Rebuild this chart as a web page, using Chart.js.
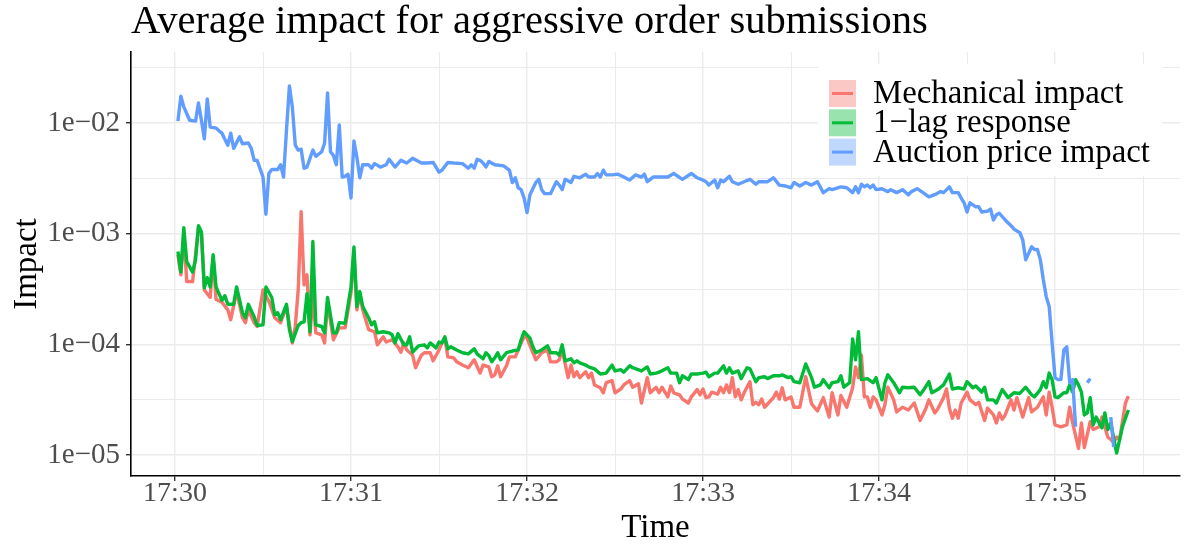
<!DOCTYPE html>
<html>
<head>
<meta charset="utf-8">
<title>Average impact for aggressive order submissions</title>
<script src="https://cdn.jsdelivr.net/npm/chart.js@4.4.1/dist/chart.umd.min.js"></script>
<style>
  html, body { margin: 0; padding: 0; background: #fff; }
</style>
</head>
<body>
<canvas id="impactChart" width="1184" height="545"></canvas>
<script>
// seconds after 17:30:00, impact
const mechanicalImpact = [[1,6.45e-4],[2,4.25e-4],[3,1.02e-3],[4,3.7e-4],[6,3.7e-4],[8,1.13e-3],[9,1.02e-3],[10,3.1e-4],[12,2.65e-4],[13,6.1e-4],[14,2.55e-4],[16,2.4e-4],[18,2.05e-4],[19,1.67e-4],[21,3.0e-4],[23,1.74e-4],[24,1.57e-4],[25,2.05e-4],[27,1.57e-4],[28,1.45e-4],[30,3.1e-4],[32,2.45e-4],[34,1.74e-4],[36,1.57e-4],[38,2.2e-4],[40,1.03e-4],[41,1.45e-4],[42,3.1e-4],[43,1.58e-3],[44,3.45e-4],[45,4.25e-4],[46,1.22e-4],[47,2.7e-4],[48,1.27e-4],[50,1.22e-4],[51,1.03e-4],[52,2.4e-4],[54,1.1e-4],[56,1.41e-4],[58,1.41e-4],[60,2.95e-4],[61,6.9e-4],[62,2.05e-4],[63,2.85e-4],[64,2.05e-4],[66,1.36e-4],[68,1.3e-4],[69,9.9e-5],[71,1.17e-4],[72,1.05e-4],[74,1.1e-4],[76,9.5e-5],[77,8.5e-5],[78,1.03e-4],[79,8.9e-5],[81,8.0e-5],[82,6.15e-5],[84,8.0e-5],[85,8.4e-5],[87,8.4e-5],[88,7.1e-5],[90,8.9e-5],[91,1.03e-4],[92,1.14e-4],[93,7.7e-5],[95,7.55e-5],[96,6.95e-5],[98,6.5e-5],[100,6.15e-5],[102,7.25e-5],[104,5.5e-5],[105,6.5e-5],[107,6.25e-5],[108,5.1e-5],[109,5.3e-5],[110,6.4e-5],[111,5.1e-5],[113,6.4e-5],[114,7.7e-5],[116,7.7e-5],[118,1.03e-4],[119,1.17e-4],[120,1.14e-4],[122,8.4e-5],[123,7.25e-5],[125,8.4e-5],[127,8.9e-5],[128,6.95e-5],[130,6.95e-5],[131,7.25e-5],[132,8.9e-5],[134,5.0e-5],[135,6.5e-5],[136,5.1e-5],[137,5.65e-5],[138,5.0e-5],[140,5.65e-5],[141,5.0e-5],[142,5.5e-5],[143,4.3e-5],[145,4.05e-5],[146,3.65e-5],[147,4.5e-5],[149,4.7e-5],[150,3.65e-5],[152,3.95e-5],[153,4.3e-5],[155,4.7e-5],[156,4.1e-5],[158,4.4e-5],[159,2.95e-5],[161,5.0e-5],[162,3.65e-5],[164,4.1e-5],[165,3.65e-5],[166,4.1e-5],[168,3.35e-5],[169,4.2e-5],[170,3.65e-5],[172,3.5e-5],[173,3.2e-5],[175,2.95e-5],[176,3.35e-5],[178,3.9e-5],[179,3.5e-5],[180,3.95e-5],[181,3.3e-5],[182,3.35e-5],[183,3.7e-5],[185,3.55e-5],[186,4.1e-5],[187,3.65e-5],[188,4.3e-5],[189,3.65e-5],[190,5.0e-5],[191,3.35e-5],[192,3.9e-5],[193,3.15e-5],[194,3.65e-5],[196,4.6e-5],[197,2.85e-5],[198,3.0e-5],[199,2.85e-5],[200,3.2e-5],[201,2.7e-5],[204,3.3e-5],[205,3.7e-5],[206,3.2e-5],[207,4.05e-5],[208,3.15e-5],[210,3.35e-5],[211,2.7e-5],[213,2.7e-5],[215,5.1e-5],[217,2.9e-5],[219,2.5e-5],[221,3.3e-5],[223,2.2e-5],[224,3.65e-5],[226,2.3e-5],[227,3.45e-5],[229,2.7e-5],[231,4.05e-5],[232,6.25e-5],[233,5.0e-5],[234,8.0e-5],[235,3.35e-5],[236,3.35e-5],[237,2.7e-5],[238,3.35e-5],[239,3.15e-5],[241,2.3e-5],[242,2.85e-5],[243,4.1e-5],[245,3.15e-5],[246,2.45e-5],[248,2.7e-5],[250,2.55e-5],[252,2.95e-5],[254,2.05e-5],[256,2.65e-5],[257,3.15e-5],[259,2.4e-5],[260,2.6e-5],[262,3.3e-5],[263,3.95e-5],[264,2.65e-5],[265,2.15e-5],[266,2.55e-5],[267,2.15e-5],[268,2.95e-5],[270,3.7e-5],[271,3.15e-5],[273,2.85e-5],[274,3.0e-5],[276,2.05e-5],[277,2.65e-5],[279,2.3e-5],[280,1.95e-5],[281,2.4e-5],[282,2.1e-5],[283,2.3e-5],[285,3.15e-5],[286,2.55e-5],[287,3.3e-5],[289,2.2e-5],[291,3.3e-5],[292,2.45e-5],[294,2.7e-5],[296,3.35e-5],[297,2.3e-5],[298,3.7e-5],[299,2.7e-5],[300,1.87e-5],[302,1.8e-5],[304,1.87e-5],[305,2.7e-5],[306,1.95e-5],[308,1.15e-5],[309,1.95e-5],[310,1.17e-5],[312,2.0e-5],[313,1.7e-5],[315,1.8e-5],[316,2.2e-5],[318,1.45e-5],[319,1.38e-5],[320,1.3e-5],[321,1.45e-5],[322,1.38e-5],[324,2.95e-5],[325,3.4e-5]];

const lagResponse = [[1,6.9e-4],[2,4.5e-4],[3,1.13e-3],[4,5.6e-4],[6,4.5e-4],[7,5.8e-4],[8,1.18e-3],[9,1.04e-3],[10,3.25e-4],[11,4.0e-4],[12,3.3e-4],[13,6.45e-4],[14,3.3e-4],[16,2.5e-4],[17,2.75e-4],[18,2.3e-4],[20,2.3e-4],[21,3.3e-4],[23,1.93e-4],[24,1.74e-4],[25,2.3e-4],[27,1.77e-4],[28,1.48e-4],[30,1.5e-4],[31,3.3e-4],[33,2.65e-4],[34,1.85e-4],[35,1.93e-4],[36,1.67e-4],[38,2.3e-4],[39,1.36e-4],[40,1.06e-4],[42,1.48e-4],[43,1.57e-4],[44,1.6e-4],[45,2.87e-4],[46,1.3e-4],[47,8.5e-4],[48,1.5e-4],[50,1.45e-4],[51,1.27e-4],[52,2.65e-4],[54,1.27e-4],[55,1.27e-4],[56,1.57e-4],[58,1.55e-4],[60,3.3e-4],[61,7.6e-4],[62,2.2e-4],[63,3.0e-4],[64,2.2e-4],[66,1.74e-4],[67,1.5e-4],[68,1.6e-4],[69,1.27e-4],[71,1.3e-4],[73,1.27e-4],[74,1.22e-4],[75,1.03e-4],[76,1.25e-4],[78,9.9e-5],[79,9.9e-5],[80,1.17e-4],[81,8.5e-5],[83,9.7e-5],[85,9.9e-5],[86,9.3e-5],[87,1.03e-4],[89,9.3e-5],[90,1.05e-4],[91,1.03e-4],[92,1.17e-4],[93,9.1e-5],[94,9.5e-5],[96,8.9e-5],[98,8.4e-5],[100,8.2e-5],[102,9.1e-5],[103,8.2e-5],[105,7.4e-5],[106,8.4e-5],[107,7.9e-5],[108,6.95e-5],[109,7.55e-5],[110,8.4e-5],[111,7.25e-5],[113,8.4e-5],[115,8.7e-5],[117,8.9e-5],[118,1.1e-4],[119,1.3e-4],[121,1.14e-4],[122,9.5e-5],[123,8.4e-5],[125,8.9e-5],[127,9.7e-5],[128,8.4e-5],[130,8.4e-5],[131,8.0e-5],[132,9.9e-5],[133,7.1e-5],[135,7.4e-5],[136,6.8e-5],[137,7.1e-5],[138,6.8e-5],[140,6.5e-5],[141,6.25e-5],[143,6.0e-5],[145,5.4e-5],[147,5.5e-5],[149,6.5e-5],[150,5.75e-5],[152,5.9e-5],[153,5.6e-5],[155,6.4e-5],[156,6.15e-5],[159,5.75e-5],[161,6.25e-5],[162,5.4e-5],[164,5.5e-5],[165,5.6e-5],[168,6.15e-5],[169,5.5e-5],[171,5.5e-5],[172,4.5e-5],[173,5.2e-5],[175,4.8e-5],[176,5.4e-5],[178,5.4e-5],[180,5.5e-5],[181,5.6e-5],[182,5.1e-5],[184,5.5e-5],[185,5.5e-5],[187,6.4e-5],[188,5.5e-5],[189,6.15e-5],[190,5.5e-5],[192,5.75e-5],[193,4.9e-5],[195,6.15e-5],[196,6.0e-5],[198,4.6e-5],[199,5.0e-5],[201,5.1e-5],[202,4.9e-5],[204,5.2e-5],[206,5.2e-5],[207,5.3e-5],[209,5.0e-5],[210,5.1e-5],[211,4.6e-5],[213,4.5e-5],[215,6.65e-5],[217,5.0e-5],[218,4.1e-5],[220,4.3e-5],[221,4.8e-5],[223,4.05e-5],[224,4.5e-5],[226,4.6e-5],[227,5.2e-5],[228,4.1e-5],[230,4.5e-5],[231,1.12e-4],[232,7.25e-5],[233,1.3e-4],[234,4.8e-5],[236,4.9e-5],[238,4.5e-5],[239,5.0e-5],[241,3.15e-5],[242,4.5e-5],[243,5.3e-5],[245,4.5e-5],[247,3.65e-5],[248,4.1e-5],[250,4.05e-5],[252,4.1e-5],[254,3.5e-5],[255,3.8e-5],[257,4.6e-5],[258,3.65e-5],[260,3.9e-5],[262,4.3e-5],[264,5.4e-5],[265,3.95e-5],[267,4.05e-5],[269,3.95e-5],[270,4.6e-5],[272,4.05e-5],[273,4.2e-5],[275,3.7e-5],[276,4.1e-5],[277,3.15e-5],[279,3.15e-5],[280,2.95e-5],[282,3.9e-5],[284,3.3e-5],[286,3.65e-5],[288,3.6e-5],[290,4.1e-5],[292,3.5e-5],[293,3.35e-5],[295,3.9e-5],[296,4.6e-5],[297,4.05e-5],[298,5.5e-5],[299,4.8e-5],[300,3.35e-5],[301,3.3e-5],[303,3.65e-5],[304,3.65e-5],[305,4.3e-5],[306,3.7e-5],[307,4.8e-5],[308,4.3e-5],[309,3.7e-5],[310,2.3e-5],[311,2.4e-5],[312,3.3e-5],[313,1.87e-5],[314,2.2e-5],[316,1.76e-5],[317,2.4e-5],[318,1.7e-5],[319,1.95e-5],[321,1.04e-5],[323,1.8e-5],[325,2.55e-5]];

// null marks seconds with no auction price
const auctionImpact = [[1,1.04e-2],[2,1.75e-2],[3,1.4e-2],[5,1.06e-2],[7,1.04e-2],[8,1.52e-2],[9,1.06e-2],[10,7.2e-3],[11,1.65e-2],[12,9.2e-3],[14,9.0e-3],[15,8.5e-3],[16,8.1e-3],[18,6.3e-3],[19,8.1e-3],[20,5.9e-3],[22,7.5e-3],[23,6.5e-3],[25,6.6e-3],[26,5.9e-3],[27,4.6e-3],[28,4.6e-3],[30,3.25e-3],[31,1.5e-3],[32,3.5e-3],[33,3.8e-3],[35,3.8e-3],[36,4.2e-3],[37,3.25e-3],[38,8.6e-3],[39,2.16e-2],[40,1.4e-2],[41,6.3e-3],[42,5.7e-3],[43,5.8e-3],[44,3.9e-3],[45,4.0e-3],[47,5.7e-3],[48,5.0e-3],[50,5.5e-3],[51,6.6e-3],[52,1.87e-2],[53,5.5e-3],[54,5.1e-3],[55,4.2e-3],[56,9.6e-3],[57,3.25e-3],[58,3.3e-3],[59,3.45e-3],[60,2.1e-3],[61,6.9e-3],[62,4.9e-3],[63,3.2e-3],[64,4.2e-3],[66,4.2e-3],[67,3.9e-3],[68,4.3e-3],[70,4.0e-3],[72,4.2e-3],[73,4.7e-3],[75,4.0e-3],[77,4.6e-3],[79,4.35e-3],[81,4.8e-3],[84,4.35e-3],[86,4.35e-3],[88,4.4e-3],[90,3.6e-3],[91,3.75e-3],[93,4.4e-3],[95,4.35e-3],[98,4.3e-3],[100,3.9e-3],[101,4.2e-3],[102,3.9e-3],[103,4.7e-3],[104,4.6e-3],[105,4.35e-3],[106,4.0e-3],[107,4.5e-3],[109,4.2e-3],[112,4.1e-3],[114,3.75e-3],[115,2.9e-3],[116,3.2e-3],[117,2.6e-3],[118,2.5e-3],[119,2.1e-3],[120,1.55e-3],[121,2.25e-3],[123,2.9e-3],[124,3.1e-3],[125,2.5e-3],[126,2.3e-3],[128,2.3e-3],[130,2.95e-3],[131,2.75e-3],[132,2.5e-3],[133,3.1e-3],[135,2.9e-3],[136,3.3e-3],[138,3.2e-3],[140,3.45e-3],[141,3.25e-3],[143,3.25e-3],[144,3.5e-3],[145,3.25e-3],[146,3.75e-3],[147,3.4e-3],[149,3.4e-3],[151,3.45e-3],[153,3.25e-3],[155,3.05e-3],[157,3.4e-3],[159,3.25e-3],[160,3.45e-3],[161,2.95e-3],[163,3.25e-3],[165,3.25e-3],[168,3.25e-3],[170,3.5e-3],[173,3.1e-3],[176,3.5e-3],[178,3.2e-3],[180,3.05e-3],[181,2.95e-3],[182,2.75e-3],[184,3.05e-3],[185,2.6e-3],[186,3.05e-3],[187,2.95e-3],[189,3.3e-3],[190,2.95e-3],[192,2.8e-3],[194,2.95e-3],[196,3.1e-3],[198,2.8e-3],[199,2.95e-3],[202,2.95e-3],[204,3.2e-3],[206,2.75e-3],[208,2.7e-3],[210,2.6e-3],[211,2.9e-3],[213,2.7e-3],[215,2.9e-3],[217,2.75e-3],[219,2.95e-3],[221,2.35e-3],[223,2.55e-3],[224,2.5e-3],[227,2.65e-3],[229,2.6e-3],[231,2.35e-3],[232,2.65e-3],[233,2.35e-3],[234,2.8e-3],[235,2.65e-3],[236,2.75e-3],[237,2.6e-3],[238,2.75e-3],[239,2.5e-3],[241,2.55e-3],[243,2.4e-3],[244,2.5e-3],[246,2.35e-3],[248,2.5e-3],[250,2.25e-3],[251,2.4e-3],[253,2.55e-3],[255,2.35e-3],[257,2.15e-3],[259,2.25e-3],[261,2.4e-3],[262,2.35e-3],[264,2.65e-3],[265,2.35e-3],[267,2.35e-3],[268,2.1e-3],[269,1.9e-3],[270,1.57e-3],[271,1.9e-3],[273,1.75e-3],[274,1.75e-3],[275,1.57e-3],[277,1.6e-3],[278,1.67e-3],[279,1.33e-3],[280,1.48e-3],[281,1.53e-3],[283,1.33e-3],[285,1.18e-3],[286,1.1e-3],[288,1.02e-3],[289,8.8e-4],[290,5.8e-4],[292,7.6e-4],[293,7.2e-4],[294,7.2e-4],[295,5.8e-4],[296,3.85e-4],[297,2.7e-4],[298,2.2e-4],[299,1.03e-4],[300,5.0e-5],[301,4.8e-5],[302,4.8e-5],[303,8.9e-5],[304,9.5e-5],[305,4.5e-5],[306,4.8e-5],[307,1.8e-5],[308,null],[311,4.5e-5],[312,4.9e-5],[313,null],[319,2.2e-5],[320,1.18e-5]];

const seriesNames = ['Mechanical impact', '1\u2212lag response', 'Auction price impact'];
const seriesColors = ['#F8766D', '#00BA38', '#619CFF'];

const xMajor = [0, 60, 120, 180, 240, 300];
const xLabels = ['17:30', '17:31', '17:32', '17:33', '17:34', '17:35'];
const xMinor = [30, 90, 150, 210, 270, 330];

const yMajor = [1e-5, 1e-4, 1e-3, 1e-2];
const yLabels = ['1e\u221205', '1e\u221204', '1e\u221203', '1e\u221202'];
const yMinor = [3.162e-5, 3.162e-4, 3.162e-3, 3.162e-2];

const SERIF = "'Liberation Serif', 'DejaVu Serif', serif";

function findTick(list, v) {
  return list.findIndex((m) => Math.abs(m - v) <= Math.abs(m) * 1e-6 + 1e-12);
}

function toPoints(rows) {
  return rows.map(([t, v]) => ({ x: t, y: v }));
}

// ggplot-like legend box sitting inside the panel
const panelLegend = {
  id: 'panelLegend',
  afterDraw(chart, args, opts) {
    const { ctx } = chart;
    ctx.save();
    ctx.fillStyle = '#ffffff';
    ctx.fillRect(opts.left, opts.top, opts.width, opts.height);
    ctx.font = `${opts.fontSize}px ${SERIF}`;
    ctx.textBaseline = 'middle';
    ctx.textAlign = 'left';
    chart.data.datasets.forEach((ds, i) => {
      const y = opts.keyTop + i * opts.rowStep;
      const cy = y + opts.keySize / 2;
      ctx.globalAlpha = 0.4;
      ctx.fillStyle = ds.borderColor;
      ctx.fillRect(opts.keyLeft, y, opts.keySize, opts.keySize);
      ctx.globalAlpha = 1;
      ctx.strokeStyle = ds.borderColor;
      ctx.lineWidth = 3;
      ctx.beginPath();
      ctx.moveTo(opts.keyLeft + 3, cy);
      ctx.lineTo(opts.keyLeft + opts.keySize - 3, cy);
      ctx.stroke();
      ctx.fillStyle = '#000000';
      ctx.fillText(ds.label, opts.textLeft, cy + 1);
    });
    ctx.restore();
  }
};

const series = [mechanicalImpact, lagResponse, auctionImpact];

new Chart(document.getElementById('impactChart'), {
  type: 'line',
  data: {
    datasets: series.map((rows, i) => ({
      label: seriesNames[i],
      data: toPoints(rows),
      borderColor: seriesColors[i],
      backgroundColor: seriesColors[i],
      borderWidth: 3.4,
      borderJoinStyle: 'round',
      pointRadius: 0,
      tension: 0,
      spanGaps: false,
      order: 2 - i
    }))
  },
  options: {
    responsive: false,
    animation: false,
    layout: { padding: { left: 0, right: 4, top: 0, bottom: 0 } },
    plugins: {
      legend: { display: false },
      tooltip: { enabled: false },
      title: {
        display: true,
        text: 'Average impact for aggressive order submissions',
        align: 'start',
        fullSize: false,
        color: '#000000',
        font: { family: SERIF, size: 40.5, weight: 'normal', lineHeight: 1.1 },
        padding: { top: 0, bottom: 7.5 }
      },
      panelLegend: {
        left: 818, top: 64, width: 344, height: 112,
        keyLeft: 829, keyTop: 80, keySize: 27, rowStep: 29.3,
        textLeft: 873, fontSize: 32.8
      }
    },
    scales: {
      x: {
        type: 'linear',
        min: -15,
        max: 342.6,
        bounds: 'data',
        afterFit: (scale) => { scale.height = 69; },
        afterBuildTicks: (scale) => {
          scale.ticks = xMajor.concat(xMinor).sort((a, b) => a - b).map((v) => ({ value: v }));
        },
        ticks: {
          autoSkip: false,
          maxRotation: 0,
          padding: -1,
          color: '#4D4D4D',
          font: { family: SERIF, size: 28, lineHeight: 1 },
          callback: (v) => {
            const i = findTick(xMajor, v);
            return i >= 0 ? xLabels[i] : '';
          }
        },
        grid: {
          color: '#EBEBEB',
          lineWidth: (c) => (c.tick && findTick(xMajor, c.tick.value) >= 0 ? 1.4 : 1),
          tickColor: (c) => (c.tick && findTick(xMajor, c.tick.value) >= 0 ? '#333333' : 'rgba(0,0,0,0)'),
          tickWidth: 1.4,
          tickLength: 5
        },
        border: { display: true, color: '#000000', width: 1.6 },
        title: {
          display: true,
          text: 'Time',
          color: '#000000',
          font: { family: SERIF, size: 33, lineHeight: 1 },
          padding: { top: 0, bottom: 0.5 }
        }
      },
      y: {
        type: 'logarithmic',
        min: 6.46e-6,
        max: 4.38e-2,
        bounds: 'data',
        afterFit: (scale) => { scale.width = 131; },
        afterBuildTicks: (scale) => {
          scale.ticks = yMajor.concat(yMinor).sort((a, b) => a - b).map((v) => ({ value: v }));
        },
        ticks: {
          autoSkip: false,
          padding: 6,
          color: '#4D4D4D',
          font: { family: SERIF, size: 29, lineHeight: 1 },
          callback: (v) => {
            const i = findTick(yMajor, v);
            return i >= 0 ? yLabels[i] : '';
          }
        },
        grid: {
          color: '#EBEBEB',
          lineWidth: (c) => (c.tick && findTick(yMajor, c.tick.value) >= 0 ? 1.4 : 1),
          tickColor: (c) => (c.tick && findTick(yMajor, c.tick.value) >= 0 ? '#333333' : 'rgba(0,0,0,0)'),
          tickWidth: 1.4,
          tickLength: 5
        },
        border: { display: true, color: '#000000', width: 1.6 },
        title: {
          display: true,
          text: 'Impact',
          color: '#000000',
          font: { family: SERIF, size: 33, lineHeight: 1.2 },
          padding: { top: 8, bottom: 0 }
        }
      }
    }
  },
  plugins: [panelLegend]
});
</script>
</body>
</html>
